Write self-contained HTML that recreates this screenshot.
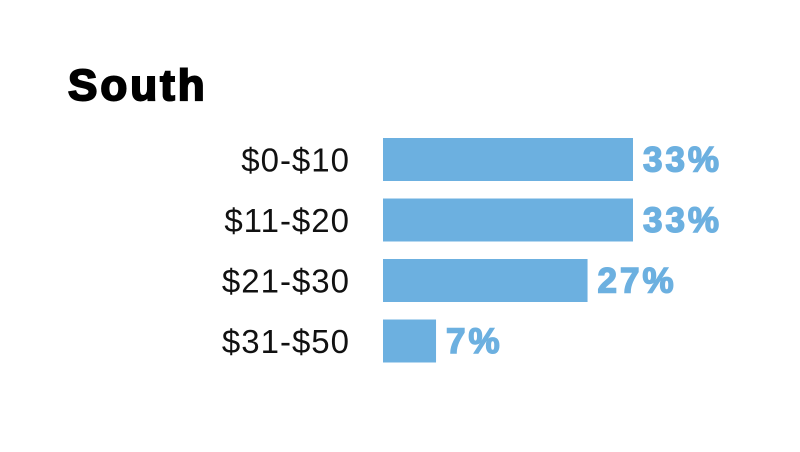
<!DOCTYPE html>
<html><head><meta charset="utf-8"><style>
body{margin:0;background:#fff;}
svg{display:block;}
</style></head><body>
<svg width="800" height="452" xmlns="http://www.w3.org/2000/svg">
<text x="68" y="100" font-family="Liberation Sans, sans-serif" font-weight="900" font-size="44" letter-spacing="3" fill="#000" stroke="#000" stroke-width="2">South</text>
<g id="bars"></g>
</svg>
<script>
const categories = ["$0-$10", "$11-$20", "$21-$30", "$31-$50"];
const values = [33, 33, 27, 7];
const valueLabels = ["33%", "33%", "27%", "7%"];
const x0 = 383, pxPer = 250/33, y0 = 138, pitch = 60.5, bh = 43;
function xScale(v){ return v*pxPer; }
function yScale(i){ return y0 + i*pitch; }
const g = document.getElementById('bars');
const ns = "http://www.w3.org/2000/svg";
categories.forEach((c,i)=>{
  const y = yScale(i), w = xScale(values[i]);
  const lab = document.createElementNS(ns,'text');
  
  
  lab.setAttribute('x',350); lab.setAttribute('y',y+bh/2+12);
  lab.setAttribute('text-anchor','end');
  lab.setAttribute('font-family','Liberation Sans, sans-serif');
  lab.setAttribute('font-size','33'); lab.setAttribute('letter-spacing','1');
  lab.setAttribute('fill','#111');
  lab.textContent = c; g.appendChild(lab);
  const r = document.createElementNS(ns,'rect');
  
  
  r.setAttribute('x',x0); r.setAttribute('y',y);
  r.setAttribute('width',w); r.setAttribute('height',bh);
  r.setAttribute('fill','#6cb0e0'); g.appendChild(r);
  const v = document.createElementNS(ns,'text');
  
  
  v.setAttribute('x',x0+w+10); v.setAttribute('y',y+bh/2+12);
  v.setAttribute('font-family','Liberation Sans, sans-serif');
  v.setAttribute('font-weight','900'); v.setAttribute('font-size','35');
  v.setAttribute('letter-spacing','3');
  v.setAttribute('fill','#6cb0e0'); v.setAttribute('stroke','#6cb0e0'); v.setAttribute('stroke-width','1.5');
  v.textContent = valueLabels[i]; g.appendChild(v);
});
</script>
</body></html>
